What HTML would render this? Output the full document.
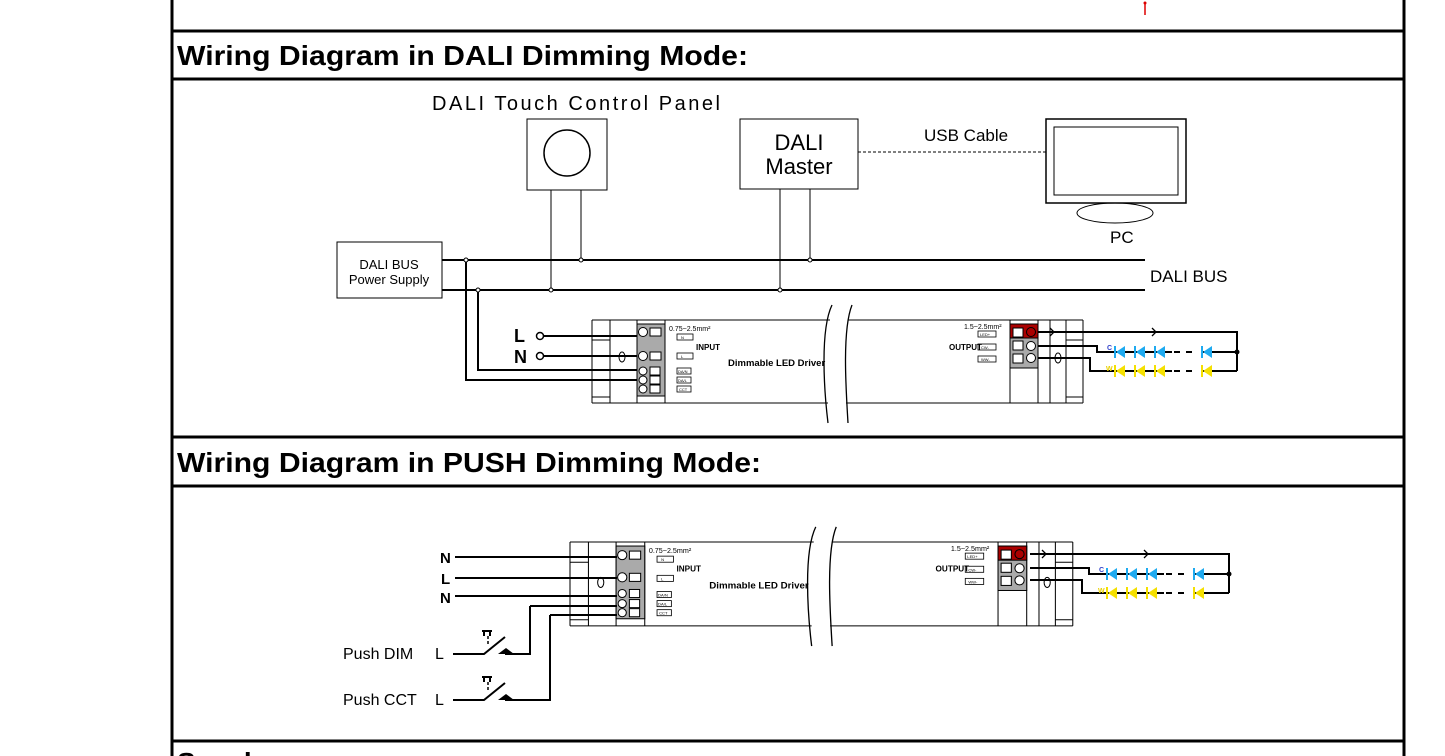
<!DOCTYPE html>
<html><head><meta charset="utf-8"><style>
html,body{margin:0;padding:0;background:#fff;width:1445px;height:756px;overflow:hidden}
svg{display:block}
text{font-family:"Liberation Sans",Arial,sans-serif}
</style></head><body>
<svg width="1445" height="756" viewBox="0 0 1445 756" xmlns="http://www.w3.org/2000/svg">
<g stroke="#000" fill="none">
<line x1="172" y1="0" x2="172" y2="756" stroke-width="3"/>
<line x1="1404" y1="0" x2="1404" y2="756" stroke-width="3"/>
<line x1="171" y1="31" x2="1405" y2="31" stroke-width="3"/>
<line x1="171" y1="79" x2="1405" y2="79" stroke-width="3"/>
<line x1="171" y1="437" x2="1405" y2="437" stroke-width="3"/>
<line x1="171" y1="486" x2="1405" y2="486" stroke-width="3"/>
<line x1="171" y1="741" x2="1405" y2="741" stroke-width="3"/>
</g>
<line x1="1145" y1="2" x2="1145" y2="15" stroke="#d00" stroke-width="1.5"/>
<circle cx="1145" cy="3" r="1.5" fill="#d00"/>
<text x="177" y="65" font-size="28" font-weight="bold" textLength="571" lengthAdjust="spacingAndGlyphs">Wiring Diagram in DALI Dimming Mode:</text>
<text x="177" y="472" font-size="28" font-weight="bold" textLength="584" lengthAdjust="spacingAndGlyphs">Wiring Diagram in PUSH Dimming Mode:</text>
<text x="177" y="772" font-size="28" font-weight="bold">Synch</text>

<g fill="none" stroke="#000" stroke-width="1">
<text x="432" y="110" font-size="20" fill="#000" stroke="none" textLength="288">DALI Touch Control Panel</text>
<rect x="527" y="119" width="80" height="71"/>
<circle cx="567" cy="153" r="23" stroke-width="1.5"/>
<line x1="551" y1="190" x2="551" y2="290"/><line x1="581" y1="190" x2="581" y2="260"/>
<rect x="740" y="119" width="118" height="70"/>
<text x="799" y="150" font-size="22" text-anchor="middle" fill="#000" stroke="none">DALI</text>
<text x="799" y="174" font-size="22" text-anchor="middle" fill="#000" stroke="none">Master</text>
<line x1="780" y1="189" x2="780" y2="290"/><line x1="810" y1="189" x2="810" y2="260"/>
<line x1="858" y1="152" x2="1046" y2="152" stroke-dasharray="3,2"/>
<text x="924" y="141" font-size="17" fill="#000" stroke="none">USB Cable</text>
<rect x="1046" y="119" width="140" height="84" stroke-width="1.5"/>
<rect x="1054" y="127" width="124" height="68"/>
<ellipse cx="1115" cy="213" rx="38" ry="10"/>
<text x="1110" y="243" font-size="17" fill="#000" stroke="none">PC</text>
<rect x="337" y="242" width="105" height="56"/>
<text x="389" y="269" font-size="13" text-anchor="middle" fill="#000" stroke="none">DALI BUS</text>
<text x="389" y="284" font-size="13" text-anchor="middle" fill="#000" stroke="none">Power Supply</text>
<line x1="442" y1="260" x2="1145" y2="260" stroke-width="2"/>
<line x1="442" y1="290" x2="1145" y2="290" stroke-width="2"/>
<text x="1150" y="282" font-size="17" fill="#000" stroke="none">DALI BUS</text>
<path d="M466 260 V380 H637 M478 290 V370 H637" stroke-width="2"/>
</g>
<g fill="#fff" stroke="#000" stroke-width="1">
<circle cx="466" cy="260" r="2"/><circle cx="478" cy="290" r="2"/><circle cx="551" cy="290" r="2"/><circle cx="581" cy="260" r="2"/><circle cx="780" cy="290" r="2"/><circle cx="810" cy="260" r="2"/>
</g>
<text x="514" y="342" font-size="18" font-weight="bold">L</text>
<text x="514" y="363" font-size="18" font-weight="bold">N</text>
<g stroke="#000" stroke-width="2" fill="#fff">
<line x1="543" y1="336" x2="637" y2="336"/><line x1="543" y1="356" x2="637" y2="356"/>
<circle cx="540" cy="336" r="3.5" stroke-width="1.5"/><circle cx="540" cy="356" r="3.5" stroke-width="1.5"/>
</g>

<g transform="translate(592,320)">
<g fill="none" stroke="#000" stroke-width="1">
<path d="M0 0 H238 M256 0 H491 M0 83 H236 M254 83 H491 M0 0 V83 M491 0 V83"/>
<line x1="18" y1="0" x2="18" y2="83"/><line x1="45" y1="0" x2="45" y2="83"/><line x1="73" y1="0" x2="73" y2="83"/>
<line x1="0" y1="20" x2="18" y2="20"/><line x1="0" y1="77" x2="18" y2="77"/>
<path d="M240 -15 C228 10 232 70 236 103 M260 -15 C250 10 254 70 256 103" stroke-width="1.3"/>
<line x1="418" y1="0" x2="418" y2="83"/><line x1="446" y1="0" x2="446" y2="83"/><line x1="458" y1="0" x2="458" y2="83"/><line x1="474" y1="0" x2="474" y2="83"/>
<line x1="474" y1="20" x2="491" y2="20"/><line x1="474" y1="77" x2="491" y2="77"/>
<ellipse cx="30" cy="37" rx="3" ry="5"/><ellipse cx="466" cy="38" rx="3" ry="5"/>
</g>
<rect x="45" y="4" width="28" height="72" fill="#aaa" stroke="#000"/>
<g fill="#fff" stroke="#000" stroke-width="1">
<circle cx="51" cy="12" r="4.5"/><rect x="58" y="8" width="11" height="8"/>
<circle cx="51" cy="36" r="4.5"/><rect x="58" y="32" width="11" height="8"/>
<circle cx="51" cy="51" r="4"/><rect x="58" y="47" width="10" height="8"/>
<circle cx="51" cy="60" r="4"/><rect x="58" y="56" width="10" height="8"/>
<circle cx="51" cy="69" r="4"/><rect x="58" y="65" width="10" height="8"/>
</g>
<g fill="#fff" stroke="#000" stroke-width="0.8">
<rect x="85" y="14" width="16" height="6"/><rect x="85" y="33" width="16" height="6"/>
<rect x="85" y="48" width="14" height="6"/><rect x="85" y="57" width="14" height="6"/><rect x="85" y="66" width="14" height="6"/>
<rect x="386" y="11" width="18" height="6"/><rect x="386" y="24" width="18" height="6"/><rect x="386" y="36" width="18" height="6"/>
</g>
<g font-size="4" fill="#000"><text x="89" y="19">N</text><text x="89" y="38">L</text><text x="86" y="53">DA/N</text><text x="86" y="62">DA/L</text><text x="87" y="71">CCT</text>
<text x="388" y="16">LED+</text><text x="389" y="29">CW-</text><text x="389" y="41">WW-</text></g>
<text x="77" y="11" font-size="7">0.75~2.5mm²</text>
<text x="104" y="30" font-size="8" font-weight="bold" font-family="Liberation Serif,serif">INPUT</text>
<text x="136" y="46" font-size="9.5" font-weight="bold">Dimmable LED Driver</text>
<text x="372" y="9" font-size="7">1.5~2.5mm²</text>
<text x="357" y="30" font-size="8" font-weight="bold" font-family="Liberation Serif,serif">OUTPUT</text>
<rect x="418" y="4" width="28" height="44" fill="#aaa" stroke="#000"/>
<rect x="418" y="4" width="28" height="14" fill="#a00" stroke="#000"/>
<g fill="#fff" stroke="#000" stroke-width="1">
<rect x="421" y="8" width="10" height="9"/><circle cx="439" cy="12" r="4.5" fill="#a00"/>
<rect x="421" y="21" width="10" height="9"/><circle cx="439" cy="26" r="4.5"/>
<rect x="421" y="34" width="10" height="9"/><circle cx="439" cy="38" r="4.5"/>
</g>
</g>
<g fill="none" stroke="#000" stroke-width="2">
<path d="M1038 332 H1237 V371"/>
<path d="M1038 346 H1097 V352 H1237"/>
<path d="M1038 358 H1090 V371 H1237"/>
<path d="M1050 328 l4 4 l-4 4 M1152 328 l4 4 l-4 4" stroke-width="1.3"/>
</g>
<circle cx="1237" cy="352" r="2.5"/>
<rect x="1172" y="349" width="30" height="6" fill="#fff"/><rect x="1172" y="368" width="30" height="6" fill="#fff"/>
<path d="M1174 352 h6 M1186 352 h6 M1174 371 h6 M1186 371 h6" stroke="#000" stroke-width="2"/>
<text x="1107" y="350" font-size="7" font-weight="bold" fill="#3344cc">C</text>
<text x="1106" y="371" font-size="7" font-weight="bold" fill="#e8d000">W</text>
<g fill="#1eaaf0"><path d="M1116 352 l9 -6 v12z"/><rect x="1114" y="346" width="2" height="12"/><path d="M1136 352 l9 -6 v12z"/><rect x="1134" y="346" width="2" height="12"/><path d="M1156 352 l9 -6 v12z"/><rect x="1154" y="346" width="2" height="12"/><path d="M1203 352 l9 -6 v12z"/><rect x="1201" y="346" width="2" height="12"/></g>
<g fill="#f5e000"><path d="M1116 371 l9 -6 v12z"/><rect x="1114" y="365" width="2" height="12"/><path d="M1136 371 l9 -6 v12z"/><rect x="1134" y="365" width="2" height="12"/><path d="M1156 371 l9 -6 v12z"/><rect x="1154" y="365" width="2" height="12"/><path d="M1203 371 l9 -6 v12z"/><rect x="1201" y="365" width="2" height="12"/></g>

<g transform="translate(570,542) scale(1.024,1.01)">
<g fill="none" stroke="#000" stroke-width="1">
<path d="M0 0 H238 M256 0 H491 M0 83 H236 M254 83 H491 M0 0 V83 M491 0 V83"/>
<line x1="18" y1="0" x2="18" y2="83"/><line x1="45" y1="0" x2="45" y2="83"/><line x1="73" y1="0" x2="73" y2="83"/>
<line x1="0" y1="20" x2="18" y2="20"/><line x1="0" y1="77" x2="18" y2="77"/>
<path d="M240 -15 C228 10 232 70 236 103 M260 -15 C250 10 254 70 256 103" stroke-width="1.3"/>
<line x1="418" y1="0" x2="418" y2="83"/><line x1="446" y1="0" x2="446" y2="83"/><line x1="458" y1="0" x2="458" y2="83"/><line x1="474" y1="0" x2="474" y2="83"/>
<line x1="474" y1="20" x2="491" y2="20"/><line x1="474" y1="77" x2="491" y2="77"/>
<ellipse cx="30" cy="40" rx="3" ry="5"/><ellipse cx="466" cy="40" rx="3" ry="5"/>
</g>
<rect x="45" y="4" width="28" height="72" fill="#aaa" stroke="#000"/>
<g fill="#fff" stroke="#000" stroke-width="1">
<circle cx="51" cy="13" r="4.5"/><rect x="58" y="9" width="11" height="8"/>
<circle cx="51" cy="35" r="4.5"/><rect x="58" y="31" width="11" height="8"/>
<circle cx="51" cy="51" r="4"/><rect x="58" y="47" width="10" height="8"/>
<circle cx="51" cy="61" r="4"/><rect x="58" y="57" width="10" height="8"/>
<circle cx="51" cy="70" r="4"/><rect x="58" y="66" width="10" height="8"/>
</g>
<g fill="#fff" stroke="#000" stroke-width="0.8">
<rect x="85" y="14" width="16" height="6"/><rect x="85" y="33" width="16" height="6"/>
<rect x="85" y="49" width="14" height="6"/><rect x="85" y="58" width="14" height="6"/><rect x="85" y="67" width="14" height="6"/>
<rect x="386" y="11" width="18" height="6"/><rect x="386" y="24" width="18" height="6"/><rect x="386" y="36" width="18" height="6"/>
</g>
<g font-size="4" fill="#000"><text x="89" y="19">N</text><text x="89" y="38">L</text><text x="86" y="54">DA/N</text><text x="86" y="63">DA/L</text><text x="87" y="72">CCT</text>
<text x="388" y="16">LED+</text><text x="389" y="29">CW-</text><text x="389" y="41">WW-</text></g>
<text x="77" y="11" font-size="7">0.75~2.5mm²</text>
<text x="104" y="29" font-size="8" font-weight="bold" font-family="Liberation Serif,serif">INPUT</text>
<text x="136" y="46" font-size="9.5" font-weight="bold">Dimmable LED Driver</text>
<text x="372" y="9" font-size="7">1.5~2.5mm²</text>
<text x="357" y="29" font-size="8" font-weight="bold" font-family="Liberation Serif,serif">OUTPUT</text>
<rect x="418" y="4" width="28" height="44" fill="#aaa" stroke="#000"/>
<rect x="418" y="4" width="28" height="14" fill="#a00" stroke="#000"/>
<g fill="#fff" stroke="#000" stroke-width="1">
<rect x="421" y="8" width="10" height="9"/><circle cx="439" cy="12" r="4.5" fill="#a00"/>
<rect x="421" y="21" width="10" height="9"/><circle cx="439" cy="26" r="4.5"/>
<rect x="421" y="34" width="10" height="9"/><circle cx="439" cy="38" r="4.5"/>
</g>
</g>
<g transform="translate(-8,222)">
<g fill="none" stroke="#000" stroke-width="2">
<path d="M1038 332 H1237 V371"/>
<path d="M1038 346 H1097 V352 H1237"/>
<path d="M1038 358 H1090 V371 H1237"/>
<path d="M1050 328 l4 4 l-4 4 M1152 328 l4 4 l-4 4" stroke-width="1.3"/>
</g>
<circle cx="1237" cy="352" r="2.5"/>
<rect x="1172" y="349" width="30" height="6" fill="#fff"/><rect x="1172" y="368" width="30" height="6" fill="#fff"/>
<path d="M1174 352 h6 M1186 352 h6 M1174 371 h6 M1186 371 h6" stroke="#000" stroke-width="2"/>
<text x="1107" y="350" font-size="7" font-weight="bold" fill="#3344cc">C</text>
<text x="1106" y="371" font-size="7" font-weight="bold" fill="#e8d000">W</text>
<g fill="#1eaaf0"><path d="M1116 352 l9 -6 v12z"/><rect x="1114" y="346" width="2" height="12"/><path d="M1136 352 l9 -6 v12z"/><rect x="1134" y="346" width="2" height="12"/><path d="M1156 352 l9 -6 v12z"/><rect x="1154" y="346" width="2" height="12"/><path d="M1203 352 l9 -6 v12z"/><rect x="1201" y="346" width="2" height="12"/></g>
<g fill="#f5e000"><path d="M1116 371 l9 -6 v12z"/><rect x="1114" y="365" width="2" height="12"/><path d="M1136 371 l9 -6 v12z"/><rect x="1134" y="365" width="2" height="12"/><path d="M1156 371 l9 -6 v12z"/><rect x="1154" y="365" width="2" height="12"/><path d="M1203 371 l9 -6 v12z"/><rect x="1201" y="365" width="2" height="12"/></g>
</g>
<g font-size="15" font-weight="bold"><text x="440" y="563">N</text><text x="441" y="584">L</text><text x="440" y="603">N</text></g>
<g fill="none" stroke="#000" stroke-width="2">
<line x1="455" y1="557" x2="617" y2="557"/><line x1="455" y1="578" x2="617" y2="578"/><line x1="455" y1="596" x2="617" y2="596"/>
<path d="M530 606 H617 M530 606 V654 H505 M550 615 H617 M550 615 V700 H505"/>
<path d="M453 654 H484 L505 637 M453 700 H484 L505 683"/>
</g>
<g fill="#000"><path d="M498 654 l8 -6 l8 6z"/><path d="M498 700 l8 -6 l8 6z"/></g>
<g stroke="#000" stroke-width="2" fill="none"><path d="M482 631 h10 M484 631 v5 M490 631 v5 M482 677 h10 M484 677 v5 M490 677 v5"/><path d="M488 636 v10 M488 682 v10" stroke-dasharray="3,2" stroke-width="1.5"/></g>
<text x="343" y="659" font-size="16">Push DIM</text><text x="435" y="659" font-size="16">L</text>
<text x="343" y="705" font-size="16">Push CCT</text><text x="435" y="705" font-size="16">L</text>
</svg>
</body></html>
